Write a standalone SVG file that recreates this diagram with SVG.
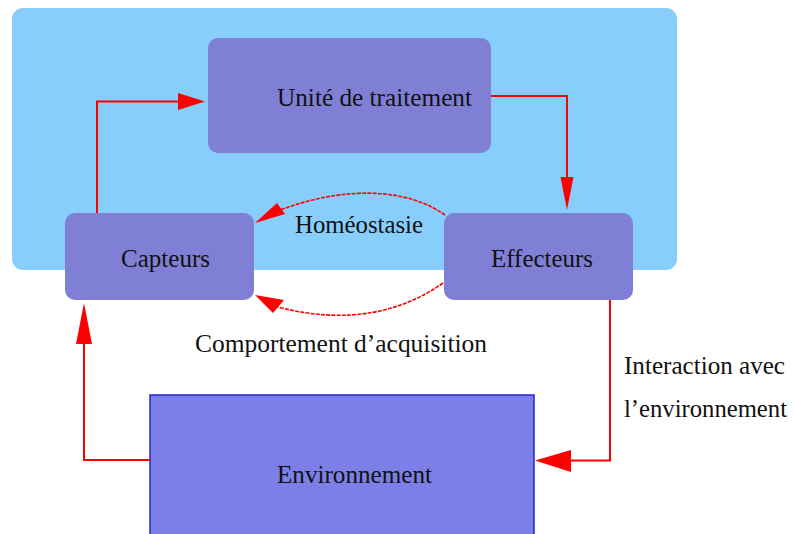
<svg xmlns="http://www.w3.org/2000/svg" width="794" height="534" viewBox="0 0 794 534">
<style>
.t{font-family:"Liberation Serif","Times New Roman",serif;font-size:26px;fill:#111;}
.s{font-size:24.5px;}
.node{fill:#7F7FD5;}
.ln{fill:none;stroke:#FF0000;stroke-width:2;}
.dl{fill:none;stroke:#FF0000;stroke-width:1.6;stroke-dasharray:4 1.2;}
.ah{fill:#FF0000;}
</style>
<rect x="0" y="0" width="794" height="534" fill="#FFFFFF"/>
<g id="systeme">
<rect x="12" y="8" width="665" height="262" rx="11" fill="#88CEFD"/>
</g>
<g id="unite">
<rect class="node" x="208" y="38" width="283" height="115" rx="10"/>
<text class="t" x="277" y="106" textLength="195" lengthAdjust="spacingAndGlyphs">Unité de traitement</text>
</g>
<g id="capteurs">
<rect class="node" x="65" y="213" width="189" height="87" rx="10"/>
<text class="t" x="121" y="267" textLength="89" lengthAdjust="spacingAndGlyphs">Capteurs</text>
</g>
<g id="effecteurs">
<rect class="node" x="444" y="213" width="189" height="87" rx="10"/>
<text class="t" x="491" y="267" textLength="102" lengthAdjust="spacingAndGlyphs">Effecteurs</text>
</g>
<g id="environnement">
<rect x="150" y="395" width="384" height="142" fill="#7C7FE6" stroke="#2424D0" stroke-width="1.5"/>
<text class="t" x="277" y="483" textLength="155" lengthAdjust="spacingAndGlyphs">Environnement</text>
</g>
<g id="connectors">
<polyline class="ln" points="97,213 97,101.5 180,101.5"/>
<polygon class="ah" points="205,101.5 178,93 178,110"/>
<polyline class="ln" points="491,96 567,96 567,180"/>
<polygon class="ah" points="567,210 560.5,177 573.5,177"/>
<path class="dl" d="M445,215 C410,190 350,184 280,210"/>
<polygon class="ah" points="255,223 277,203 285,214"/>
<path class="dl" d="M443,283 C405,310 350,326 278,307"/>
<polygon class="ah" points="255,295 284,300 273,313"/>
<polyline class="ln" points="610,300 610,460.5 570,460.5"/>
<polygon class="ah" points="535,460.5 571,450 571,472"/>
<polyline class="ln" points="150,460 84,460 84,342"/>
<polygon class="ah" points="84,303 76,344 92,344"/>
<text class="t" x="295" y="233" textLength="128" lengthAdjust="spacingAndGlyphs">Homéostasie</text>
<text class="t" x="195" y="352" textLength="292" lengthAdjust="spacingAndGlyphs">Comportement d’acquisition</text>
<text class="t" x="624" y="374" textLength="161" lengthAdjust="spacingAndGlyphs">Interaction avec</text>
<text class="t s" x="624" y="417" textLength="163" lengthAdjust="spacingAndGlyphs">l’environnement</text>
</g>
</svg>
